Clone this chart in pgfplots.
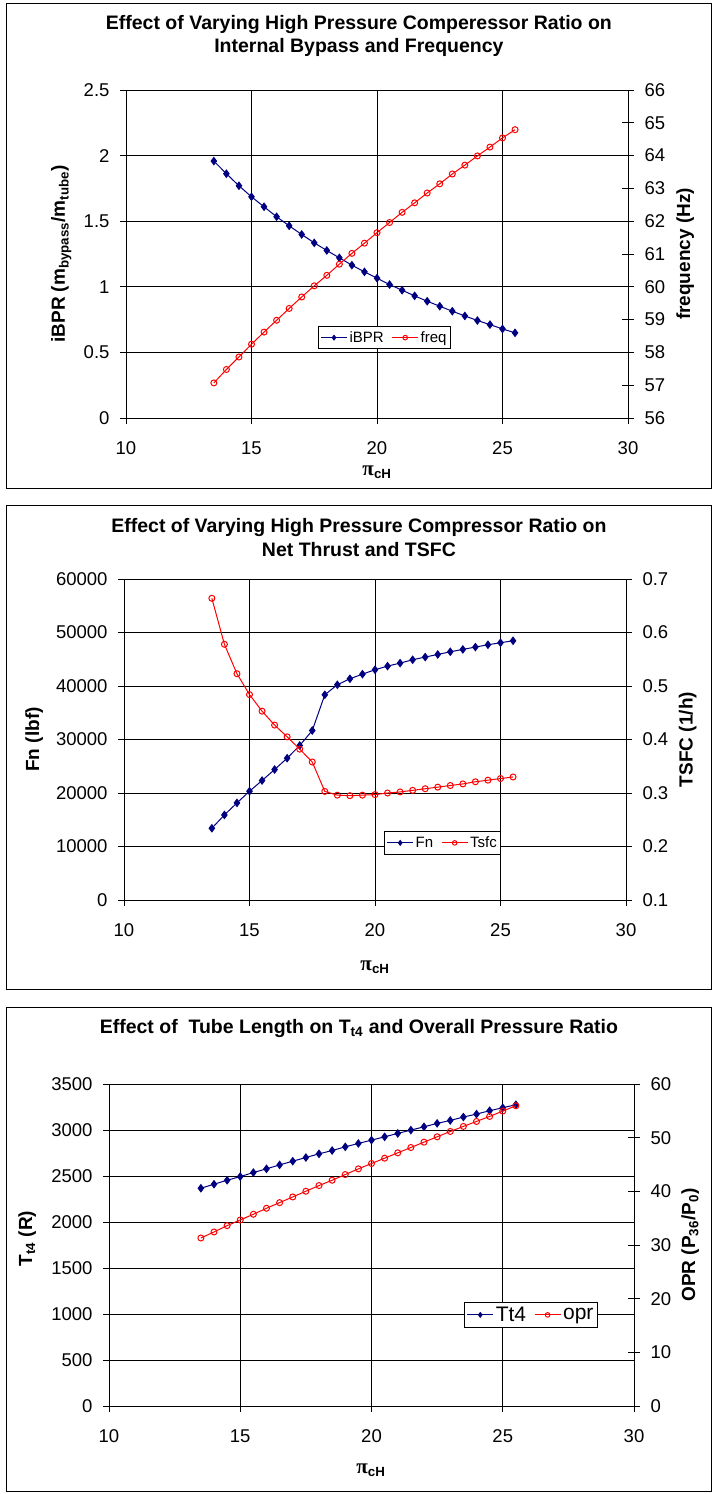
\documentclass[border=0pt]{standalone}
\usepackage{fontspec}
\setmainfont{Liberation Sans}
\newfontfamily\pifont{Liberation Serif}
\usepackage{pgfplots}
\usepackage{pgfplotstable}
\pgfplotsset{compat=1.18}

\definecolor{navy}{RGB}{0,0,128}
\definecolor{xlred}{RGB}{255,0,0}

% pi_cH sweep, step 0.5
\pgfplotstableread{
x    ibpr  freq
13.5 1.958 57.07
14.0 1.862 57.48
14.5 1.770 57.86
15.0 1.686 58.25
15.5 1.610 58.62
16.0 1.534 58.98
16.5 1.465 59.34
17.0 1.399 59.69
17.5 1.335 60.03
18.0 1.277 60.35
18.5 1.221 60.69
19.0 1.165 61.02
19.5 1.114 61.33
20.0 1.066 61.65
20.5 1.017 61.96
21.0 0.974 62.27
21.5 0.931 62.56
22.0 0.890 62.86
22.5 0.852 63.14
23.0 0.814 63.44
23.5 0.778 63.71
24.0 0.743 63.99
24.5 0.712 64.26
25.0 0.679 64.54
25.5 0.649 64.79
}\bypass

\pgfplotstableread{
x    fn    tsfc
13.5 13410 0.664
14.0 15900 0.578
14.5 18150 0.523
15.0 20330 0.484
15.5 22330 0.453
16.0 24390 0.427
16.5 26510 0.405
17.0 28880 0.382
17.5 31680 0.358
18.0 38360 0.303
18.5 40230 0.296
19.0 41350 0.295
19.5 42220 0.296
20.0 43040 0.297
20.5 43720 0.300
21.0 44280 0.302
21.5 44910 0.305
22.0 45410 0.308
22.5 45900 0.311
23.0 46400 0.314
23.5 46840 0.317
24.0 47280 0.321
24.5 47710 0.324
25.0 48090 0.327
25.5 48460 0.330
}\thrust

\pgfplotstableread{
x    tt4  opr
13.5 2367 31.31
14.0 2411 32.43
14.5 2454 33.61
15.0 2494 34.67
15.5 2538 35.73
16.0 2578 36.85
16.5 2621 37.90
17.0 2661 38.96
17.5 2701 40.02
18.0 2741 41.08
18.5 2777 42.07
19.0 2817 43.13
19.5 2854 44.19
20.0 2890 45.19
20.5 2926 46.18
21.0 2963 47.18
21.5 2999 48.17
22.0 3035 49.17
22.5 3072 50.17
23.0 3104 51.16
23.5 3141 52.10
24.0 3173 53.03
24.5 3210 53.96
25.0 3242 54.96
25.5 3275 55.95
}\temps

\pgfplotsset{
  base/.style={
    scale only axis,
    xmin=10, xmax=30, xtick={10,15,20,25,30},
    /pgf/number format/assume math mode=true,
    scaled y ticks=false,
    yticklabel style={/pgf/number format/fixed, /pgf/number format/1000 sep={}},
    tick style={black, line width=0.8pt},
    axis line style={black, line width=0.8pt, -},
    ticklabel style={font=\fontsize{18.5}{21}\selectfont},
    label style={font=\bfseries\fontsize{19}{22}\selectfont},
  },
  leftax/.style={
    base,
    axis lines*=left,
    tick align=outside,
    major tick length=6pt,
    xmajorgrids, ymajorgrids,
    grid style={black, line width=0.8pt},
    xticklabel style={yshift=-14pt},
    yticklabel style={xshift=-7pt},
    xlabel style={anchor=center},
    ylabel style={anchor=center},
    title style={anchor=center, align=center, font=\bfseries\fontsize{19.5}{23.5}\selectfont},
  },
  rightax/.style={
    base,
    axis y line*=right,
    axis x line=none,
    tick align=center,
    major tick length=12pt,
    yticklabel style={xshift=7pt},
    ylabel style={anchor=center},
    legend columns=2,
    legend cell align=left,
    legend style={anchor=center, draw=black, line width=0.8pt, fill=white,
      inner xsep=2pt, inner ysep=3pt, font=\fontsize{15}{17}\selectfont,
      /tikz/every even column/.append style={column sep=6pt}},
    legend image code/.code={\draw[mark repeat=2, mark phase=2, #1, mark size=2.3pt]
      plot coordinates {(0pt,0pt) (13pt,0pt) (26pt,0pt)};},
  },
  blueline/.style={navy, line width=1pt, mark=diamond*, mark size=3.6pt,
    mark options={fill=navy, solid}},
  redline/.style={xlred, line width=1pt, mark=o, mark size=3pt,
    mark options={solid}},
}

\newcommand{\pich}{{\pifont\bfseries\fontsize{21}{22}\selectfont π}\textsubscript{\bfseries cH}}

\begin{document}
\begin{tikzpicture}
\useasboundingbox (0pt,0pt) rectangle (713pt,-1494pt);
\draw[line width=1pt] (6.5pt,-3.5pt) rectangle (711.5pt,-488.5pt);
\draw[line width=1pt] (6.5pt,-505pt) rectangle (711.5pt,-989pt);
\draw[line width=1pt] (6.5pt,-1007pt) rectangle (711.5pt,-1491pt);

% ---- panel 1
\begin{axis}[leftax, at={(126pt,-418pt)}, anchor=south west,
    width=502pt, height=328pt,
    ymin=0, ymax=2.5, ytick={0,0.5,...,2.5},
    title={Effect of Varying High Pressure Comperessor Ratio on\\Internal Bypass and Frequency},
    title style={at={(axis description cs:0.464,1.146)}},
    xlabel={\pich}, xlabel style={at={(axis description cs:0.5,-0.165)}},
    ylabel={iBPR (m\textsubscript{bypass}/m\textsubscript{tube})},
    ylabel style={at={(axis description cs:-0.129,0.5)}},
  ]
  \addplot[blueline] table[x=x, y=ibpr] {\bypass};
\end{axis}
\begin{axis}[rightax, at={(126pt,-418pt)}, anchor=south west,
    width=502pt, height=328pt,
    ymin=56, ymax=66, ytick={56,57,...,66},
    ylabel={frequency (Hz)},
    ylabel style={at={(axis description cs:1.114,0.5)}},
    legend style={at={(axis description cs:0.515,0.245)}},
  ]
  \addlegendimage{blueline}
  \addlegendentry{iBPR}
  \addplot[redline] table[x=x, y=freq] {\bypass};
  \addlegendentry{freq}
\end{axis}

% ---- panel 2
\begin{axis}[leftax, at={(124pt,-900pt)}, anchor=south west,
    width=502pt, height=321pt,
    ymin=0, ymax=60000, ytick={0,10000,...,60000},
    title={Effect of Varying High Pressure Compressor Ratio on\\Net Thrust and TSFC},
    title style={at={(axis description cs:0.468,1.111)}},
    xlabel={\pich}, xlabel style={at={(axis description cs:0.5,-0.209)}},
    ylabel={Fn (lbf)},
    ylabel style={at={(axis description cs:-0.179,0.5)}},
  ]
  \addplot[blueline] table[x=x, y=fn] {\thrust};
\end{axis}
\begin{axis}[rightax, at={(124pt,-900pt)}, anchor=south west,
    width=502pt, height=321pt,
    ymin=0.1, ymax=0.7, ytick={0.1,0.2,...,0.7},
    ylabel={TSFC (1/h)},
    ylabel style={at={(axis description cs:1.123,0.5)}},
    legend style={at={(axis description cs:0.635,0.178)}},
  ]
  \addlegendimage{blueline}
  \addlegendentry{Fn}
  \addplot[redline] table[x=x, y=tsfc] {\thrust};
  \addlegendentry{Tsfc}
\end{axis}

% ---- panel 3
\begin{axis}[leftax, at={(109pt,-1406pt)}, anchor=south west,
    width=525pt, height=322pt,
    ymin=0, ymax=3500, ytick={0,500,...,3500},
    title={Effect of\ \ Tube Length on T\textsubscript{t4} and Overall Pressure Ratio},
    title style={at={(axis description cs:0.476,1.155)}},
    xlabel={\pich}, xlabel style={at={(axis description cs:0.499,-0.199)}},
    ylabel={T\textsubscript{t4} (R)},
    ylabel style={at={(axis description cs:-0.156,0.52)}},
  ]
  \addplot[blueline] table[x=x, y=tt4] {\temps};
\end{axis}
\begin{axis}[rightax, at={(109pt,-1406pt)}, anchor=south west,
    width=525pt, height=322pt,
    ymin=0, ymax=60, ytick={0,10,...,60},
    ylabel={OPR (P\textsubscript{36}/P\textsubscript{0})},
    ylabel style={at={(axis description cs:1.107,0.5)}},
    legend style={at={(axis description cs:0.804,0.283)},
      font=\fontsize{21}{23}\selectfont},
  ]
  \addlegendimage{blueline}
  \addlegendentry{Tt4}
  \addplot[redline] table[x=x, y=opr] {\temps};
  \addlegendentry{opr}
\end{axis}
\end{tikzpicture}
\end{document}
